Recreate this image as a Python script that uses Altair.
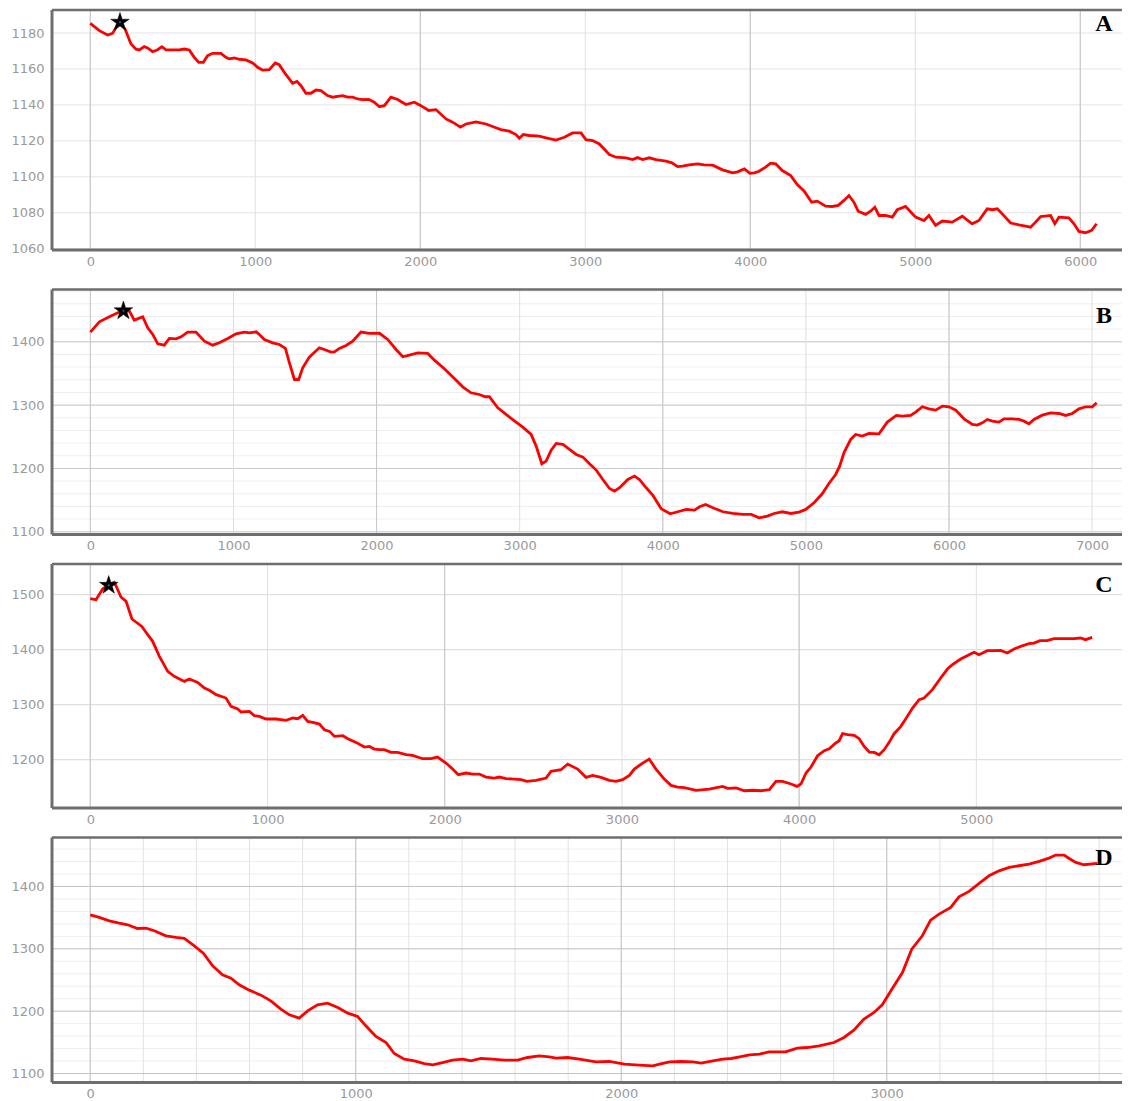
import altair as alt
import pandas as pd

# ---------------- Panel A ----------------
A_DIST = [0, 55, 105, 135, 156, 180, 212, 246, 277, 297,
          327, 347, 378, 408, 434, 459, 499, 539, 570, 600,
          630, 657, 685, 711, 741, 792, 822, 842, 873, 903,
          943, 984, 1014, 1044, 1085, 1121, 1145, 1176, 1226, 1253,
          1277, 1307, 1337, 1368, 1398, 1438, 1469, 1499, 1529, 1560,
          1590, 1620, 1651, 1687, 1721, 1752, 1782, 1822, 1863, 1913,
          1964, 2004, 2051, 2095, 2156, 2196, 2243, 2277, 2337, 2398,
          2438, 2489, 2539, 2580, 2600, 2624, 2661, 2721, 2762, 2822,
          2873, 2923, 2974, 3004, 3045, 3085, 3146, 3186, 3247, 3287,
          3317, 3348, 3388, 3428, 3489, 3525, 3560, 3590, 3630, 3681,
          3721, 3772, 3832, 3893, 3923, 3964, 3998, 4025, 4053, 4093,
          4123, 4154, 4194, 4245, 4285, 4327, 4372, 4406, 4457, 4497,
          4533, 4568, 4598, 4628, 4654, 4699, 4729, 4755, 4780, 4820,
          4861, 4891, 4941, 5002, 5053, 5083, 5123, 5164, 5224, 5285,
          5345, 5386, 5436, 5467, 5497, 5527, 5578, 5628, 5669, 5699,
          5729, 5760, 5820, 5846, 5871, 5931, 5962, 5992, 6032, 6069,
          6099]
A_ELEV = [1185.4, 1181.3, 1178.9, 1179.8, 1183, 1185.5, 1182, 1174, 1171, 1170.6,
          1172.4, 1171.7, 1169.6, 1170.7, 1172.4, 1170.6, 1170.6, 1170.6, 1171.1, 1170.6,
          1166.5, 1163.7, 1163.7, 1167.4, 1168.7, 1168.7, 1166.5, 1165.6, 1166.1, 1165.4,
          1165, 1163.3, 1160.9, 1159.4, 1159.6, 1163.3, 1162.4, 1158.1, 1152, 1153.1,
          1150.7, 1146.5, 1146.5, 1148.3, 1148, 1145.2, 1144.3, 1144.8, 1145.2, 1144.3,
          1144.3, 1143.3, 1143, 1143.1, 1141.5, 1139, 1139.6, 1144.3, 1143, 1140.2,
          1141.5, 1139.6, 1136.9, 1137.4, 1132.2, 1130.4, 1127.6, 1129.4, 1130.6, 1129.4,
          1128, 1126.3, 1125.4, 1123.5, 1121.5, 1123.5, 1123, 1122.6, 1121.7, 1120.4,
          1122, 1124.4, 1124.4, 1120.7, 1120.2, 1118.3, 1112.4, 1110.9, 1110.6, 1109.6,
          1110.7, 1109.6, 1110.6, 1109.6, 1108.7, 1107.8, 1105.7, 1105.9, 1106.7, 1107.2,
          1106.7, 1106.5, 1103.9, 1102.2, 1102.8, 1104.4, 1102, 1102.2, 1103.1, 1105.4,
          1107.6, 1107.2, 1103.5, 1100.7, 1095.7, 1092, 1085.9, 1086.5, 1083.7, 1083.5,
          1084.1, 1086.9, 1089.6, 1085.9, 1080.9, 1079.1, 1080.9, 1083.1, 1078.5, 1078.5,
          1077.6, 1081.7, 1083.5, 1077.6, 1075.7, 1078.5, 1073, 1075.4, 1074.8, 1078.1,
          1073.9, 1075.7, 1082.2, 1081.7, 1082.2, 1079.4, 1074.3, 1073.3, 1072.6, 1072,
          1074.8, 1077.9, 1078.5, 1073.9, 1077.6, 1077.2, 1073.9, 1069.6, 1068.9, 1070.2,
          1073.9]

# ---------------- Panel B ----------------
B_DIST = [0, 63, 133, 191, 231, 273, 307, 366, 401, 436,
          471, 517, 552, 599, 634, 680, 738, 797, 855, 901,
          960, 1018, 1076, 1111, 1158, 1181, 1216, 1274, 1321, 1363,
          1391, 1426, 1456, 1484, 1530, 1600, 1635, 1682, 1705, 1740,
          1787, 1833, 1891, 1950, 2020, 2078, 2136, 2183, 2229, 2288,
          2357, 2404, 2474, 2544, 2602, 2660, 2718, 2760, 2788, 2847,
          2905, 2975, 3022, 3080, 3115, 3155, 3185, 3220, 3255, 3302,
          3348, 3395, 3442, 3488, 3535, 3581, 3628, 3663, 3698, 3756,
          3802, 3837, 3884, 3931, 3989, 4052, 4105, 4164, 4222, 4257,
          4299, 4350, 4420, 4490, 4560, 4618, 4673, 4731, 4778, 4836,
          4894, 4952, 4999, 5057, 5114, 5161, 5208, 5236, 5266, 5313,
          5348, 5394, 5441, 5511, 5569, 5632, 5674, 5732, 5767, 5814,
          5860, 5907, 5954, 6000, 6047, 6105, 6163, 6198, 6233, 6268,
          6303, 6349, 6384, 6443, 6489, 6524, 6559, 6594, 6652, 6710,
          6769, 6815, 6862, 6908, 6955, 7001, 7032]
B_ELEV = [1415.3, 1431.6, 1439.5, 1445.8, 1448.4, 1448.4, 1434.2, 1439.5, 1422, 1411.6,
          1396.8, 1394.7, 1405.3, 1404.7, 1407.9, 1415.3, 1415.3, 1401, 1394.7, 1398.4,
          1405.3, 1412.6, 1415.3, 1414.2, 1415.8, 1411.6, 1403.7, 1398.4, 1395.8, 1389.5,
          1366.8, 1340.5, 1340.5, 1359, 1375.8, 1390.5, 1387.9, 1383.7, 1384.2, 1389.5,
          1394.2, 1401, 1415.3, 1413.2, 1413.5, 1403.7, 1387.9, 1376.3, 1378.9, 1382.6,
          1381.6, 1371, 1357.4, 1342.1, 1328.9, 1319.5, 1316.8, 1313.2, 1313.2, 1295.8,
          1285.3, 1273.2, 1265.3, 1253.7, 1235.3, 1207.4, 1211.6, 1228.9, 1239.5, 1237.9,
          1230, 1222.1, 1217.9, 1207.4, 1197.4, 1182.6, 1168.4, 1164.2, 1169.5, 1182.6,
          1187.9, 1182.6, 1169.5, 1157.4, 1136.3, 1128.4, 1131.6, 1135.3, 1134.2, 1139.5,
          1143.2, 1137.9, 1131.6, 1128.9, 1127.4, 1127.4, 1122.1, 1124.7, 1128.9, 1131.6,
          1128.9, 1131.1, 1135.3, 1145.8, 1160, 1176.3, 1190.5, 1203.7, 1224.7, 1245.8,
          1253.7, 1251.1, 1255.3, 1254.7, 1273.2, 1283.7, 1282.6, 1283.7, 1288.9, 1297.4,
          1294.2, 1292.1, 1298.4, 1297.4, 1292.1, 1278.4, 1269.5, 1268.4, 1272.1, 1277.4,
          1274.7, 1273.2, 1278.4, 1278.4, 1277.4, 1274.7, 1270.5, 1277.4, 1284.2, 1287.9,
          1286.8, 1283.7, 1286.8, 1294.2, 1297.4, 1297.4, 1303.7]

# ---------------- Panel C ----------------
C_DIST = [0, 32, 70, 104, 136, 155, 173, 202, 235, 291,
          324, 352, 390, 437, 474, 531, 559, 606, 644, 672,
          710, 766, 794, 832, 851, 898, 926, 954, 992, 1049,
          1105, 1143, 1171, 1199, 1227, 1256, 1293, 1321, 1350, 1378,
          1425, 1453, 1500, 1547, 1575, 1603, 1631, 1659, 1697, 1734,
          1782, 1819, 1875, 1922, 1960, 2007, 2045, 2077, 2120, 2158,
          2195, 2233, 2280, 2308, 2346, 2393, 2431, 2463, 2515, 2572,
          2600, 2656, 2694, 2750, 2797, 2835, 2882, 2929, 2966, 3004,
          3042, 3070, 3117, 3154, 3192, 3239, 3277, 3314, 3352, 3418,
          3493, 3568, 3597, 3644, 3691, 3740, 3785, 3832, 3869, 3907,
          3954, 3988, 4010, 4039, 4067, 4104, 4142, 4170, 4202, 4226,
          4245, 4273, 4311, 4339, 4367, 4396, 4424, 4452, 4480, 4508,
          4536, 4574, 4602, 4640, 4677, 4705, 4752, 4799, 4837, 4865,
          4912, 4959, 4987, 5015, 5062, 5100, 5137, 5175, 5213, 5250,
          5297, 5325, 5359, 5400, 5438, 5494, 5551, 5588, 5616, 5654]
C_ELEV = [1492.7, 1490.9, 1510.3, 1518, 1522.4, 1509, 1495.8, 1487.9, 1455.8, 1442.4,
          1427.3, 1415.2, 1387.9, 1360.6, 1351.5, 1342.4, 1346.7, 1340.6, 1330.3, 1326.1,
          1318.2, 1312.1, 1297, 1292.1, 1286.7, 1287.9, 1280, 1278.8, 1274, 1274,
          1271.5, 1275.8, 1274.5, 1280.6, 1269.7, 1267.9, 1264.8, 1254.5, 1251.5, 1242.4,
          1243.6, 1238.2, 1231.5, 1223, 1224.2, 1219.4, 1218.2, 1218.2, 1213.3, 1213.3,
          1209.1, 1207.9, 1201.8, 1201.8, 1204.8, 1193.9, 1183, 1172.7, 1175.8, 1173.9,
          1173.9, 1168.5, 1166.7, 1168.5, 1165.5, 1164.8, 1163.6, 1160.6, 1162.4, 1166.7,
          1178.8, 1181.8, 1192.1, 1183, 1167.9, 1171.5, 1167.9, 1162.4, 1160.6, 1163.6,
          1171.5, 1183, 1193.9, 1201.2, 1183, 1164.8, 1153.3, 1150.3, 1149.1, 1144.2,
          1146.7, 1151.5, 1147.9, 1148.5, 1143.6, 1144.5, 1143.6, 1145.5, 1160.6, 1160.6,
          1155.8, 1151.5, 1155.8, 1175.8, 1186.7, 1207.3, 1216.4, 1220, 1229.1, 1234.5,
          1247.3, 1245.5, 1244.2, 1238.2, 1224.2, 1213.9, 1213.3, 1209.1, 1218.2, 1231.5,
          1247.3, 1260.6, 1274.5, 1293.9, 1309.1, 1312.1, 1327.3, 1348.5, 1364.8, 1372.7,
          1383, 1390.9, 1395.2, 1390.9, 1398.2, 1398.2, 1398.8, 1393.9, 1401.2, 1406.1,
          1410.9, 1412.1, 1416.4, 1416.4, 1420, 1420, 1420, 1421.2, 1418.2, 1422.4]

# ---------------- Panel D ----------------
D_DIST = [0, 34, 72, 109, 141, 178, 210, 241, 285, 323,
          354, 392, 426, 461, 498, 530, 561, 599, 643, 680,
          718, 750, 787, 819, 856, 894, 932, 970, 1007, 1038,
          1076, 1114, 1145, 1183, 1221, 1258, 1290, 1327, 1365, 1403,
          1434, 1471, 1515, 1559, 1610, 1647, 1691, 1729, 1754, 1798,
          1842, 1905, 1955, 2012, 2068, 2119, 2144, 2182, 2226, 2270,
          2301, 2345, 2383, 2414, 2446, 2483, 2521, 2556, 2619, 2663,
          2701, 2745, 2801, 2839, 2876, 2914, 2952, 2983, 3021, 3059,
          3094, 3134, 3165, 3197, 3241, 3272, 3310, 3348, 3385, 3423,
          3461, 3498, 3536, 3574, 3611, 3636, 3668, 3687, 3712, 3743,
          3793]
D_ELEV = [1354.5, 1350.3, 1344.9, 1341.2, 1338.5, 1332.6, 1333.2, 1328.9, 1320.9, 1318.2,
          1316.6, 1304.8, 1293, 1272.7, 1258.3, 1252.9, 1242.2, 1233.7, 1225.7, 1216.6,
          1203.2, 1194.1, 1188.8, 1200.5, 1210.2, 1212.8, 1205.9, 1196.8, 1191.4, 1176.5,
          1159.4, 1149.7, 1132.1, 1123, 1120.3, 1116, 1113.9, 1117.6, 1121.4, 1123,
          1120.3, 1124.1, 1123, 1121.4, 1121.4, 1125.7, 1128.3, 1126.7, 1124.6, 1125.7,
          1123, 1118.7, 1119.3, 1115, 1113.4, 1112.3, 1115, 1118.7, 1119.3, 1118.7,
          1116.6, 1120.3, 1123, 1124.1, 1126.7, 1130, 1131, 1134.8, 1134.8, 1140.6,
          1141.7, 1144.4, 1149.7, 1157.8, 1169.5, 1187.2, 1197.9, 1210.2, 1236.4, 1262,
          1299.5, 1320.9, 1346, 1355.6, 1366.3, 1383.4, 1392, 1404.8, 1417.1, 1425.1,
          1430.5, 1433.2, 1435.8, 1440.1, 1445.5, 1450.3, 1450.3, 1444.9, 1438.5, 1434.8,
          1436.9]

# star markers (A, B, C)
STAR_DIST = [180, 231, 104]
STAR_ELEV = [1186, 1449, 1517]

# tick / grid values
A_XLAB = [0, 1000, 2000, 3000, 4000, 5000, 6000]
A_XMAJ = [0, 2000, 4000, 6000]
A_YLAB = [1060, 1080, 1100, 1120, 1140, 1160, 1180]
B_XLAB = [0, 1000, 2000, 3000, 4000, 5000, 6000, 7000]
B_XMAJ = [0, 2000, 4000, 6000]
B_YLAB = [1100, 1200, 1300, 1400]
B_YMIN = [1100, 1120, 1140, 1160, 1180, 1200, 1220, 1240, 1260, 1280, 1300, 1320, 1340,
          1360, 1380, 1400, 1420, 1440, 1460, 1480]
C_XLAB = [0, 1000, 2000, 3000, 4000, 5000]
C_XMAJ = [0, 2000, 4000]
C_YLAB = [1200, 1300, 1400, 1500]
D_XLAB = [0, 1000, 2000, 3000]
D_XMIN = [0, 200, 400, 600, 800, 1000, 1200, 1400, 1600, 1800, 2000, 2200, 2400, 2600,
          2800, 3000, 3200, 3400, 3600, 3800]
D_YLAB = [1100, 1200, 1300, 1400]
D_YMIN = [1100, 1120, 1140, 1160, 1180, 1200, 1220, 1240, 1260, 1280, 1300, 1320, 1340,
          1360, 1380, 1400, 1420, 1440, 1460]

STAR_PATH = ("M0,-1L0.2245,-0.309L0.951,-0.309L0.363,0.118L0.588,0.809L0,0.382"
             "L-0.588,0.809L-0.363,0.118L-0.951,-0.309L-0.2245,-0.309Z")

W = 1070
LABEL_X = 1052
FRAME = "#6e6e6e"


def panel(dist, elev, xdom, ydom, height, xlab, ylab, grids, letter, letter_y, star_idx=None):
    xs = alt.Scale(domain=xdom, nice=False, zero=False)
    ys = alt.Scale(domain=ydom, nice=False, zero=False)
    xax = alt.Axis(values=xlab, grid=False, ticks=False, domain=False,
                   labelPadding=5, labelFlush=False, labelOverlap=False, format="d")
    yax = alt.Axis(values=ylab, grid=False, ticks=False, domain=False,
                   labelPadding=8, labelFlush=False, labelOverlap=False, format="d")

    def X(field):
        return alt.X(field, scale=xs, axis=xax, title=None)

    def Y(field):
        return alt.Y(field, scale=ys, axis=yax, title=None)

    layers = []
    for vals, ch, col in grids:
        gdf = pd.DataFrame({"v": vals})
        enc = {"x": X("v:Q")} if ch == "x" else {"y": Y("v:Q")}
        layers.append(alt.Chart(gdf).mark_rule(color=col, strokeWidth=1).encode(**enc))
    df = pd.DataFrame({"d": dist, "e": elev})
    layers.append(alt.Chart(df).mark_line(color="#ff0000", strokeWidth=2.8, clip=True)
                  .encode(x=X("d:Q"), y=Y("e:Q"), order="d:Q"))
    if star_idx is not None:
        sdf = pd.DataFrame({"d": [STAR_DIST[star_idx]], "e": [STAR_ELEV[star_idx]]})
        layers.append(alt.Chart(sdf).mark_point(shape=STAR_PATH, filled=True, fill="#000000",
                                                stroke="#000000", strokeWidth=0.5, size=380,
                                                opacity=1, clip=True)
                      .encode(x=X("d:Q"), y=Y("e:Q")))
        layers.append(alt.Chart(sdf).mark_point(filled=True, color="#2a64c8", size=4,
                                                opacity=1, clip=True)
                      .encode(x=X("d:Q"), y=Y("e:Q")))
    tdf = pd.DataFrame({"t": [letter]})
    layers.append(alt.Chart(tdf).mark_text(font="Liberation Serif", fontWeight="bold", fontSize=24,
                                           color="#000000", align="center", baseline="middle")
                  .encode(x=alt.value(LABEL_X), y=alt.value(letter_y), text="t:N"))
    # frame: left, top, bottom (right side runs off the page in the reference)
    fdf = pd.DataFrame({"k": [0]})
    layers.append(alt.Chart(fdf).mark_rule(color=FRAME, strokeWidth=3)
                  .encode(x=alt.value(0), y=alt.value(0), y2=alt.value(height)))
    layers.append(alt.Chart(fdf).mark_rule(color=FRAME, strokeWidth=2.5)
                  .encode(x=alt.value(0), x2=alt.value(W), y=alt.value(0)))
    layers.append(alt.Chart(fdf).mark_rule(color=FRAME, strokeWidth=3)
                  .encode(x=alt.value(0), x2=alt.value(W), y=alt.value(height)))
    return alt.layer(*layers).properties(width=W, height=height)


MIN_LIGHT = "#efefef"
pA = panel(A_DIST, A_ELEV, [-232, 6253], [1059.3, 1192.8], 240, A_XLAB, A_YLAB,
           [(A_YLAB, "y", "#e4e4e4"), (A_XLAB, "x", "#e0e0e0"), (A_XMAJ, "x", "#c4c4c4")],
           "A", 14, 0)
pB = panel(B_DIST, B_ELEV, [-268, 7209], [1095.7, 1482.6], 245, B_XLAB, B_YLAB,
           [(B_YMIN, "y", MIN_LIGHT), (B_YLAB, "y", "#c8c8c8"), (B_XLAB, "x", "#dedede"),
            (B_XMAJ, "x", "#c8c8c8")],
           "B", 26, 1)
pC = panel(C_DIST, C_ELEV, [-216, 5822], [1112.2, 1555.8], 244, C_XLAB, C_YLAB,
           [(C_YLAB, "y", "#d8d8d8"), (C_XLAB, "x", "#e0e0e0"), (C_XMAJ, "x", "#c4c4c4")],
           "C", 21, 2)
pD = panel(D_DIST, D_ELEV, [-144, 3886], [1085.6, 1478.5], 245, D_XLAB, D_YLAB,
           [(D_YMIN, "y", MIN_LIGHT), (D_XMIN, "x", "#e2e2e2"), (D_YLAB, "y", "#c4c4c4"),
            (D_XLAB, "x", "#c4c4c4")],
           "D", 20)

chart = alt.vconcat(pA, alt.vconcat(pB, pC, pD, spacing=9.5), spacing=19.5).properties(
    padding={"left": 2, "top": 0, "right": 0, "bottom": 0}
).configure_view(
    stroke="transparent", strokeWidth=0
).configure_axis(
    labelFont="DejaVu Sans", labelFontSize=13, labelColor="#9a9a9a"
)

chart.save("out.html", embed_options={"renderer": "svg", "actions": False})
